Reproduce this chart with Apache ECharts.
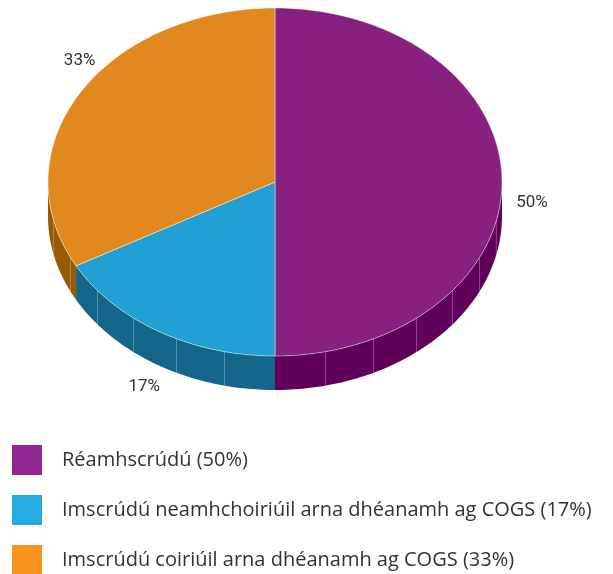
<!DOCTYPE html>
<html>
<head>
<meta charset="utf-8">
<script src="https://cdn.jsdelivr.net/npm/echarts@6/dist/echarts.min.js"></script>
<style>
  html, body { margin: 0; padding: 0; background: #fff; }
  #chart { width: 613px; height: 574px; }
</style>
</head>
<body>
<div id="chart"></div>
<script>
// data
const categories = ['Réamhscrúdú', 'Imscrúdú neamhchoiriúil arna dhéanamh ag COGS', 'Imscrúdú coiriúil arna dhéanamh ag COGS'];
const values = [50, 17, 33];
const topColors = ['#87207f', '#229fd3', '#e1891e'];
const wallColors = ['#600058', '#13668a', '#985a05'];
const legendColors = ['#92278f', '#27a9e1', '#f7941d'];

// pie geometry (ellipse + extrusion)
const cx = 275, cy = 182, rx = 227, ry = 174, depth = 34;
const total = values.reduce((a, b) => a + b, 0);
const starts = [];
let acc = 0;
values.forEach(v => { starts.push(acc / total * Math.PI * 2); acc += v; });

function pt(a, dy) {
  return [cx + rx * Math.sin(a), cy - ry * Math.cos(a) + (dy || 0)];
}
function arc(a0, a1, dy) {
  const n = Math.max(2, Math.ceil((a1 - a0) / (Math.PI / 180)));
  const pts = [];
  for (let i = 0; i <= n; i++) pts.push(pt(a0 + (a1 - a0) * i / n, dy));
  return pts;
}

function renderSlice(params, api) {
  const i = params.seriesIndex;
  const v = api.value(0);
  const a0 = starts[i], a1 = a0 + v / total * Math.PI * 2;
  const children = [];

  // front wall, only the part facing the viewer
  const w0 = Math.max(a0, Math.PI / 2), w1 = Math.min(a1, Math.PI * 1.5);
  if (w1 > w0) {
    const top = arc(w0, w1, 0), bot = arc(w0, w1, depth).reverse();
    children.push({ type: 'polygon', shape: { points: top.concat(bot) },
      style: { fill: wallColors[i] }, z2: 1 });
    const step = Math.PI / 14;
    for (let a = Math.ceil(w0 / step) * step; a < w1 - 0.01; a += step) {
      if (a <= w0 + 0.01) continue;
      const p = pt(a, 0);
      children.push({ type: 'line', shape: { x1: p[0], y1: p[1], x2: p[0], y2: p[1] + depth },
        style: { stroke: 'rgba(255,255,255,0.28)', lineWidth: 1 }, z2: 2 });
    }
  }

  // top face
  children.push({ type: 'polygon', shape: { points: [[cx, cy]].concat(arc(a0, a1, 0)) },
    style: { fill: topColors[i], stroke: 'rgba(255,255,255,0.55)', lineWidth: 0.8 }, z2: 10 });

  // percentage label
  const m = (a0 + a1) / 2;
  const lower = Math.cos(m) <= 0.001;
  const lx = cx + (rx + (lower ? 30 : 0)) * Math.sin(m);
  const ly = cy - (ry + (lower ? 40 : 65)) * Math.cos(m) + (lower ? depth * 0.6 : 0);
  children.push({ type: 'text', z2: 20,
    style: { text: v + '%', x: lx, y: ly, fill: '#333', font: '17px Roboto',
      align: 'center', verticalAlign: 'middle' } });

  return { type: 'group', children: children };
}

const chart = echarts.init(document.getElementById('chart'));
chart.setOption({
  animation: false,
  legend: {
    orient: 'vertical',
    left: 12,
    top: 445,
    height: 135,
    padding: 0,
    itemWidth: 30,
    itemHeight: 30,
    itemGap: 20,
    icon: 'rect',
    selectedMode: false,
    textStyle: { fontSize: 20, color: '#333', fontFamily: 'Open Sans', padding: [0, 0, 0, 15] }
  },
  series: categories.map((c, i) => ({
    type: 'custom',
    name: c + ' (' + values[i] + '%)',
    coordinateSystem: 'none',
    renderItem: renderSlice,
    itemStyle: { color: legendColors[i] },
    data: [[values[i]]]
  }))
});
</script>
</body>
</html>
